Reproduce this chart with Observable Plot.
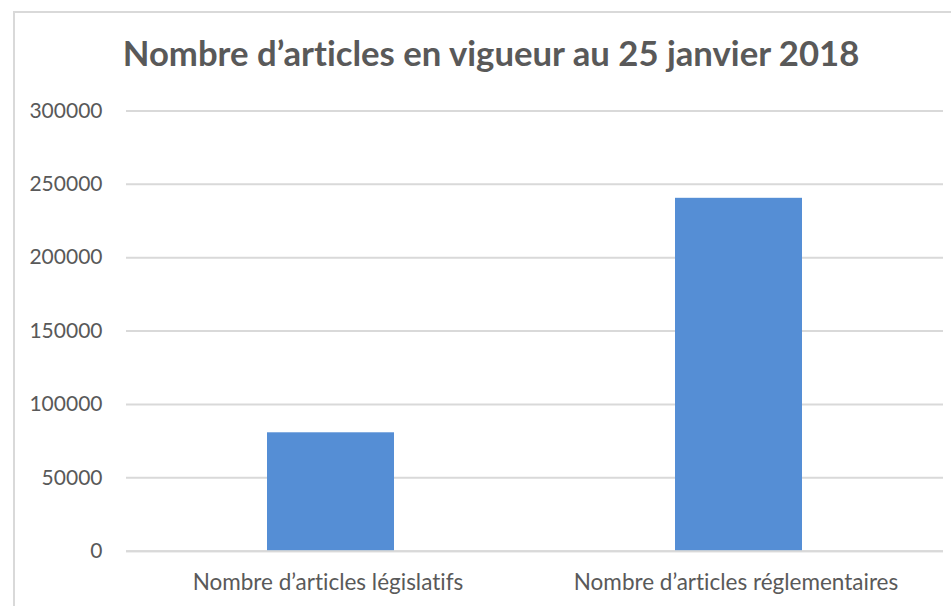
<!DOCTYPE html>
<html><head><meta charset="utf-8">
<script src="https://cdn.jsdelivr.net/npm/d3@7"></script>
<script src="https://cdn.jsdelivr.net/npm/@observablehq/plot@0.6"></script>
<style>
body{margin:0;background:#fff;width:951px;height:606px;overflow:hidden;position:relative;font-family:Lato,"Open Sans",sans-serif;font-variant-ligatures:none;}
#frame{position:absolute;left:13px;top:11px;width:980px;height:640px;border:2px solid #d9d9d9;box-sizing:border-box;}
#title{position:absolute;top:36px;left:0;width:982px;text-align:center;font-weight:700;font-size:34.7px;line-height:34px;color:#595959;white-space:nowrap;font-variant-ligatures:none;}
#chart{position:absolute;left:0;top:90px;}
svg text{font-variant-ligatures:none;}
</style></head>
<body>
<div id="frame"></div>
<div id="title">Nombre d’articles en vigueur au 25 janvier 2018</div>
<div id="chart"></div>
<script>
const categories = ["Nombre d’articles législatifs", "Nombre d’articles réglementaires"];
const values = [80700, 240500];
const yTicks = [0, 50000, 100000, 150000, 200000, 250000, 300000];

const data = categories.map((c, i) => ({category: c, value: values[i]}));

const chart = Plot.plot({
  width: 951, height: 516,
  marginTop: 20.5, marginBottom: 55.3, marginLeft: 126, marginRight: 8,
  style: {fontFamily: "Lato, 'Open Sans', sans-serif", fontSize: "21px", color: "#595959", background: "transparent", overflow: "visible"},
  x: {domain: categories, paddingInner: 0.689, paddingOuter: 0.345},
  y: {domain: [0, 300000]},
  marks: [
    Plot.gridY(yTicks, {stroke: "#d9d9d9", strokeOpacity: 1, strokeWidth: 2}),
    Plot.barY(data, {x: "category", y: "value", fill: "#558ed5"}),
    Plot.ruleY([0], {stroke: "#d9d9d9", strokeWidth: 2}),
    Plot.axisY(yTicks, {label: null, tickSize: 0, tickPadding: 24, tickFormat: d => String(d), fontSize: 21, fill: "#595959"}),
    Plot.axisX({label: null, tickSize: 0, tickPadding: 23, fontSize: 22.5, fill: "#595959", dx: -3})
  ]
});
document.getElementById("chart").append(chart);
</script>
</body></html>
